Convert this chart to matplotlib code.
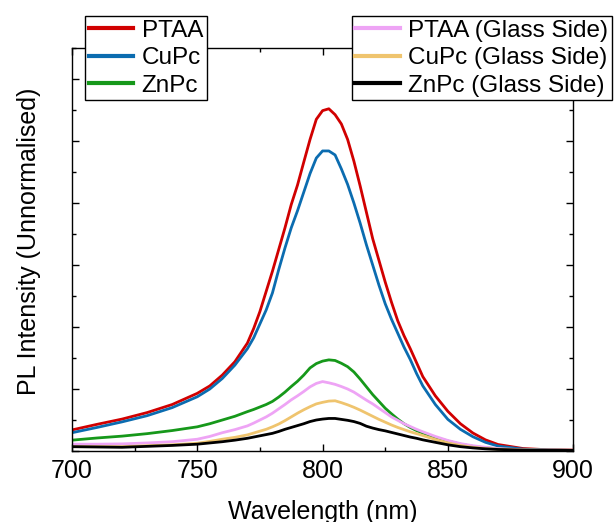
import matplotlib
matplotlib.use("Agg")
import matplotlib.pyplot as plt
from matplotlib.ticker import MultipleLocator, NullFormatter

plt.rcParams['font.family'] = ['Liberation Sans', 'DejaVu Sans']

# wavelength grid (nm), denser around the emission peak
wavelength = [700, 710, 720, 730, 740, 750, 755, 760, 765,
              770, 772.5, 775, 777.5, 780, 782.5, 785, 787.5, 790, 792.5,
              795, 797.5, 800, 802.5, 805, 807.5, 810, 812.5, 815, 817.5,
              820, 822.5, 825, 827.5, 830, 832.5, 835, 837.5, 840,
              845, 850, 855, 860, 865, 870, 880, 890, 900]

# PL counts (arb. units)
ptaa = [0.68, 0.86, 1.03, 1.24, 1.50, 1.86, 2.10, 2.45, 2.88,
        3.48, 3.95, 4.50, 5.15, 5.80, 6.50, 7.20, 7.95, 8.58, 9.32,
        10.05, 10.70, 10.98, 11.04, 10.85, 10.55, 10.05, 9.35, 8.55, 7.70,
        6.85, 6.15, 5.45, 4.80, 4.20, 3.72, 3.30, 2.85, 2.40,
        1.78, 1.28, 0.88, 0.58, 0.36, 0.21, 0.08, 0.04, 0.03]
cupc = [0.59, 0.76, 0.94, 1.14, 1.40, 1.75, 2.00, 2.34, 2.77,
        3.30, 3.65, 4.10, 4.55, 5.10, 5.85, 6.55, 7.20, 7.75, 8.35,
        8.95, 9.45, 9.68, 9.68, 9.55, 9.10, 8.60, 8.00, 7.35, 6.65,
        6.00, 5.35, 4.75, 4.25, 3.80, 3.35, 2.95, 2.50, 2.10,
        1.50, 1.02, 0.70, 0.46, 0.28, 0.16, 0.06, 0.03, 0.02]
znpc = [0.35, 0.42, 0.48, 0.56, 0.66, 0.78, 0.88, 1.00, 1.12,
        1.27, 1.34, 1.42, 1.50, 1.60, 1.74, 1.90, 2.08, 2.25, 2.45,
        2.68, 2.82, 2.90, 2.94, 2.92, 2.83, 2.72, 2.55, 2.32, 2.07,
        1.82, 1.60, 1.38, 1.20, 1.03, 0.88, 0.76, 0.66, 0.58,
        0.44, 0.32, 0.22, 0.15, 0.10, 0.07, 0.04, 0.03, 0.02]
ptaa_glass = [0.22, 0.22, 0.23, 0.26, 0.30, 0.38, 0.47, 0.59, 0.69,
              0.81, 0.90, 1.00, 1.10, 1.22, 1.36, 1.50, 1.65, 1.78, 1.92,
              2.07, 2.18, 2.24, 2.20, 2.15, 2.08, 2.00, 1.90, 1.77, 1.64,
              1.52, 1.38, 1.24, 1.10, 0.99, 0.88, 0.79, 0.70, 0.62,
              0.47, 0.34, 0.24, 0.17, 0.12, 0.08, 0.04, 0.03, 0.02]
cupc_glass = [0.14, 0.14, 0.14, 0.17, 0.20, 0.25, 0.31, 0.38, 0.44,
              0.52, 0.58, 0.64, 0.70, 0.78, 0.87, 0.98, 1.10, 1.22, 1.33,
              1.43, 1.52, 1.57, 1.61, 1.62, 1.56, 1.49, 1.41, 1.32, 1.22,
              1.12, 1.02, 0.93, 0.84, 0.76, 0.69, 0.62, 0.56, 0.50,
              0.37, 0.26, 0.18, 0.12, 0.08, 0.06, 0.03, 0.02, 0.02]
znpc_glass = [0.14, 0.13, 0.12, 0.15, 0.18, 0.22, 0.26, 0.30, 0.35,
              0.41, 0.45, 0.49, 0.53, 0.57, 0.63, 0.70, 0.76, 0.82, 0.88,
              0.95, 1.00, 1.03, 1.05, 1.05, 1.02, 0.99, 0.95, 0.89, 0.80,
              0.74, 0.69, 0.65, 0.60, 0.55, 0.50, 0.45, 0.41, 0.36,
              0.28, 0.20, 0.14, 0.10, 0.07, 0.05, 0.03, 0.02, 0.02]

fig = plt.figure(figsize=(6.15, 5.22), dpi=100)
ax = fig.add_axes([0.117, 0.136, 0.815, 0.772])

lw = 2.0
l1, = ax.plot(wavelength, ptaa, color='#d10000', lw=lw, label='PTAA')
l2, = ax.plot(wavelength, cupc, color='#0b6cb0', lw=lw, label='CuPc')
l3, = ax.plot(wavelength, znpc, color='#16981a', lw=lw, label='ZnPc')
l4, = ax.plot(wavelength, ptaa_glass, color='#eea4f5', lw=lw, label='PTAA (Glass Side)')
l5, = ax.plot(wavelength, cupc_glass, color='#efc46e', lw=lw, label='CuPc (Glass Side)')
l6, = ax.plot(wavelength, znpc_glass, color='#000000', lw=lw, label='ZnPc (Glass Side)')

ax.set_xlim(700, 900)
ax.set_ylim(0, 13)
ax.xaxis.set_major_locator(MultipleLocator(50))
ax.xaxis.set_minor_locator(MultipleLocator(25))
ax.yaxis.set_major_locator(MultipleLocator(2))
ax.yaxis.set_minor_locator(MultipleLocator(1))
ax.yaxis.set_major_formatter(NullFormatter())

ax.tick_params(which='both', direction='in', top=True, right=True, width=1)
ax.tick_params(which='major', length=5, labelsize=18, pad=6)
ax.tick_params(which='minor', length=3)
for s in ax.spines.values():
    s.set_linewidth(1.0)

ax.set_xlabel('Wavelength (nm)', fontsize=18, labelpad=12)
ax.set_ylabel('PL Intensity (Unnormalised)', fontsize=18)
ax.yaxis.set_label_coords(-0.062, 0.521)

leg_kw = dict(fontsize=17.5, frameon=True, fancybox=False, framealpha=1,
              edgecolor='black', handlelength=1.85, handletextpad=0.33,
              labelspacing=0.22, borderpad=0.15, borderaxespad=0)
leg1 = fig.legend(handles=[l1, l2, l3], loc='upper left',
                  bbox_to_anchor=(0.138, 0.969), **leg_kw)
leg2 = fig.legend(handles=[l4, l5, l6], loc='upper left',
                  bbox_to_anchor=(0.572, 0.969), **leg_kw)
for leg in (leg1, leg2):
    leg.get_frame().set_linewidth(1.0)
    for h in leg.legend_handles:
        h.set_linewidth(3)

fig.savefig('out.png', dpi=100)
